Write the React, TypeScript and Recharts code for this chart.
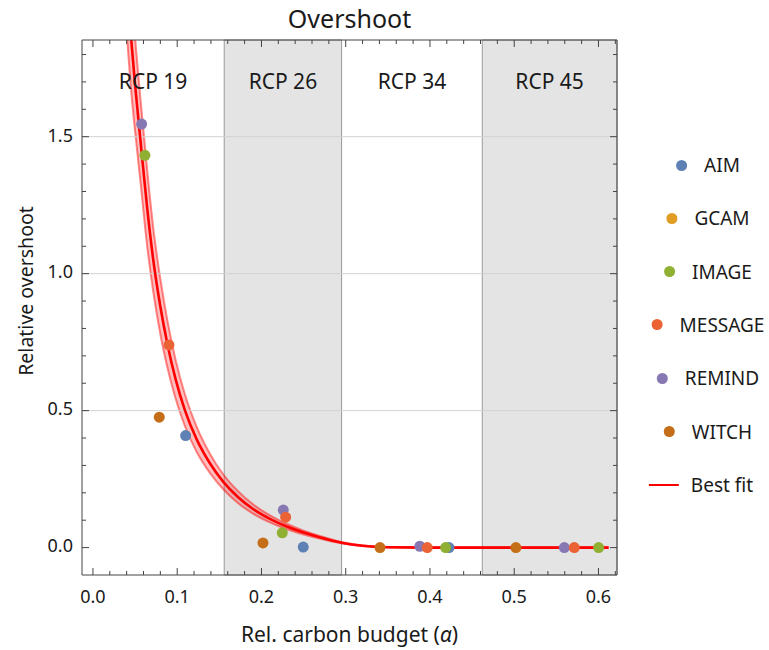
import React from 'react';
import {
  ComposedChart,
  Line,
  Area,
  Scatter,
  XAxis,
  YAxis,
  ReferenceArea,
  ReferenceLine,
} from 'recharts';

// best fit curve (x, fit, lower / upper band)
const fitX = [0.04, 0.045, 0.05, 0.0566, 0.064, 0.0716, 0.08, 0.0886, 0.098, 0.1092, 0.123, 0.139, 0.155, 0.172, 0.19, 0.21, 0.23, 0.25, 0.27, 0.295, 0.32, 0.35, 0.4, 0.612];
const fitY = [2.09, 1.87, 1.69, 1.48, 1.25, 1.05, 0.88, 0.74, 0.616, 0.501, 0.396, 0.307, 0.239, 0.185, 0.141, 0.105, 0.077, 0.055, 0.037, 0.018, 0.0067, 0.0012, 0, 0];
const fitLo = [1.88, 1.68, 1.52, 1.33, 1.11, 0.934, 0.779, 0.655, 0.545, 0.443, 0.35, 0.272, 0.212, 0.163, 0.124, 0.092, 0.067, 0.048, 0.032, 0.0157, 0.0057, 0.0012, 0, 0];
const fitHi = [2.3, 2.06, 1.86, 1.63, 1.39, 1.166, 0.981, 0.825, 0.687, 0.559, 0.442, 0.342, 0.266, 0.207, 0.158, 0.118, 0.087, 0.062, 0.042, 0.0203, 0.0077, 0.0012, 0, 0];

// model results: relative carbon budget vs relative overshoot
const aimX = [0.11, 0.2496, 0.4226];
const aimY = [0.409, 0.002, 0];
const gcamX: number[] = [];
const gcamY: number[] = [];
const imageX = [0.0617, 0.2247, 0.4186, 0.6002];
const imageY = [1.432, 0.054, 0, 0];
const messageX = [0.0902, 0.2287, 0.3968, 0.5713];
const messageY = [0.74, 0.111, 0, 0];
const remindX = [0.0578, 0.2259, 0.388, 0.5595];
const remindY = [1.546, 0.137, 0.005, 0];
const witchX = [0.0787, 0.2018, 0.3407, 0.502];
const witchY = [0.476, 0.017, 0, 0];

// RCP regions
const rcpNames = ['RCP 19', 'RCP 26', 'RCP 34', 'RCP 45'];
const rcpEdges = [-0.013, 0.1558, 0.2951, 0.4621, 0.622];

const xTicks = Array.from({ length: 32 }, (_, i) => +(i * 0.02).toFixed(2));
const yTicks = Array.from({ length: 19 }, (_, i) => +(i * 0.1).toFixed(1));
const gridY = [0.5, 1.0, 1.5];

const FONT = '"Noto Sans", sans-serif';
const AXIS = '#444';
const TEXT = '#1a1a1a';

const fitData = fitX.map((x, i) => ({ x, fit: fitY[i], band: [fitLo[i], fitHi[i]] }));
const pts = (xs: number[], ys: number[]) => xs.map((x, i) => ({ x, y: ys[i] }));

const series = [
  { name: 'AIM', color: '#5E81B5', data: pts(aimX, aimY) },
  { name: 'GCAM', color: '#E19C24', data: pts(gcamX, gcamY) },
  { name: 'REMIND', color: '#8778B3', data: pts(remindX, remindY) },
  { name: 'IMAGE', color: '#8FB032', data: pts(imageX, imageY) },
  { name: 'MESSAGE', color: '#EB6235', data: pts(messageX, messageY) },
  { name: 'WITCH', color: '#C56E1A', data: pts(witchX, witchY) },
];
const legendOrder = ['AIM', 'GCAM', 'IMAGE', 'MESSAGE', 'REMIND', 'WITCH'];

const isMajor = (v: number, step: number) => Math.abs(v / step - Math.round(v / step)) < 1e-6;

const BottomTick = (p: any) => {
  const v = p.payload.value;
  const major = isMajor(v, 0.1);
  return (
    <g>
      <line x1={p.x} x2={p.x} y1={p.y} y2={p.y - (major ? 7 : 4)} stroke={AXIS} />
      {major && (
        <text x={p.x} y={p.y + 23} textAnchor="middle" dominantBaseline="middle" fontSize={18} fill={TEXT} fontFamily={FONT}>
          {v.toFixed(1)}
        </text>
      )}
    </g>
  );
};

const TopTick = (p: any) => {
  const major = isMajor(p.payload.value, 0.1);
  return <line x1={p.x} x2={p.x} y1={p.y} y2={p.y + (major ? 7 : 4)} stroke={AXIS} />;
};

const LeftTick = (p: any) => {
  const v = p.payload.value;
  const major = isMajor(v, 0.5);
  return (
    <g>
      <line x1={p.x} x2={p.x + (major ? 7 : 4)} y1={p.y} y2={p.y} stroke={AXIS} />
      {major && (
        <text x={p.x - 9} y={p.y} textAnchor="end" dominantBaseline="middle" fontSize={18} fill={TEXT} fontFamily={FONT}>
          {v.toFixed(1)}
        </text>
      )}
    </g>
  );
};

const RightTick = (p: any) => {
  const major = isMajor(p.payload.value, 0.5);
  return <line x1={p.x} x2={p.x - (major ? 7 : 4)} y1={p.y} y2={p.y} stroke={AXIS} />;
};

export default function App() {
  return (
    <div style={{ position: 'absolute', left: 0, top: 0, width: 769, height: 650, fontFamily: FONT, color: TEXT }}>
      <div style={{ position: 'absolute', left: 0, width: 699, top: 1, textAlign: 'center', fontSize: 25 }}>Overshoot</div>
      <ComposedChart
        width={769}
        height={650}
        data={fitData}
        margin={{ top: 39, right: 151, bottom: 35, left: 32 }}
      >
        <XAxis
          xAxisId="b"
          dataKey="x"
          type="number"
          domain={[-0.013, 0.622]}
          ticks={xTicks}
          interval={0}
          allowDataOverflow
          height={40}
          tickSize={0}
          tickMargin={0}
          tickLine={false}
          tick={BottomTick}
          axisLine={{ stroke: AXIS }}
        />
        <XAxis
          xAxisId="t"
          orientation="top"
          dataKey="x"
          type="number"
          domain={[-0.013, 0.622]}
          ticks={xTicks}
          interval={0}
          allowDataOverflow
          height={1}
          tickSize={0}
          tickMargin={0}
          tickLine={false}
          tick={TopTick}
          axisLine={{ stroke: AXIS }}
        />
        <YAxis
          yAxisId="l"
          type="number"
          domain={[-0.1, 1.853]}
          ticks={yTicks}
          interval={0}
          allowDataOverflow
          width={50}
          tickSize={0}
          tickMargin={0}
          tickLine={false}
          tick={LeftTick}
          axisLine={{ stroke: AXIS }}
        />
        <YAxis
          yAxisId="r"
          orientation="right"
          type="number"
          domain={[-0.1, 1.853]}
          ticks={yTicks}
          interval={0}
          allowDataOverflow
          width={1}
          tickSize={0}
          tickMargin={0}
          tickLine={false}
          tick={RightTick}
          axisLine={{ stroke: AXIS }}
        />

        {rcpNames.map((name, i) => (
          <ReferenceArea
            key={name}
            xAxisId="b"
            yAxisId="l"
            x1={rcpEdges[i]}
            x2={rcpEdges[i + 1]}
            fill={i % 2 ? '#E4E4E4' : 'none'}
            fillOpacity={1}
            stroke={i % 2 ? '#9A9A9A' : 'none'}
            strokeWidth={1}
            label={{ value: name, position: 'insideTop', offset: 34, fontSize: 21, fill: TEXT, fontFamily: FONT }}
          />
        ))}
        {gridY.map((y) => (
          <ReferenceLine key={y} xAxisId="b" yAxisId="l" y={y} stroke="#D2D2D2" strokeWidth={1} />
        ))}

        <Area
          xAxisId="b"
          yAxisId="l"
          dataKey="band"
          type="monotone"
          fill="#FF0000"
          fillOpacity={0.25}
          stroke="#FF0000"
          strokeOpacity={0.45}
          strokeWidth={2}
          isAnimationActive={false}
        />
        <Line
          xAxisId="b"
          yAxisId="l"
          dataKey="fit"
          type="monotone"
          stroke="#FF0000"
          strokeWidth={2.6}
          dot={false}
          isAnimationActive={false}
        />
        {series.map((s) => (
          <Scatter
            key={s.name}
            xAxisId="b"
            yAxisId="l"
            data={s.data}
            dataKey="y"
            fill={s.color}
            shape={(p: any) => <circle cx={p.cx} cy={p.cy} r={5.5} fill={s.color} />}
            isAnimationActive={false}
          />
        ))}
      </ComposedChart>

      <div style={{ position: 'absolute', left: 40, top: 634, width: 619, textAlign: 'center', fontSize: 21, lineHeight: '21px', transform: 'translateY(-50%)' }}>
        Rel. carbon budget (<i>α</i>)
      </div>
      <div
        style={{
          position: 'absolute',
          left: 25,
          top: 291,
          fontSize: 19.5,
          whiteSpace: 'nowrap',
          transform: 'translate(-50%, -50%) rotate(-90deg)',
        }}
      >
        Relative overshoot
      </div>

      {legendOrder.map((name, i) => {
        const s = series.find((d) => d.name === name)!;
        return (
          <div key={name} style={{ position: 'absolute', left: 722, top: 165 + i * 53.3, transform: 'translate(-50%, -50%)', fontSize: 19, whiteSpace: 'nowrap' }}>
            <span style={{ position: 'relative', display: 'inline-block' }}>
              <span style={{ position: 'absolute', left: -28, top: '50%', marginTop: -5.5, width: 11, height: 11, borderRadius: '50%', background: s.color }} />
              {name}
            </span>
          </div>
        );
      })}
      <div style={{ position: 'absolute', left: 722, top: 165 + 6 * 53.3, transform: 'translate(-50%, -50%)', fontSize: 19, whiteSpace: 'nowrap' }}>
        <span style={{ position: 'relative', display: 'inline-block' }}>
          <span style={{ position: 'absolute', left: -42, top: '50%', marginTop: -1, width: 30, height: 2, background: '#FF0000' }} />
          Best fit
        </span>
      </div>
    </div>
  );
}
